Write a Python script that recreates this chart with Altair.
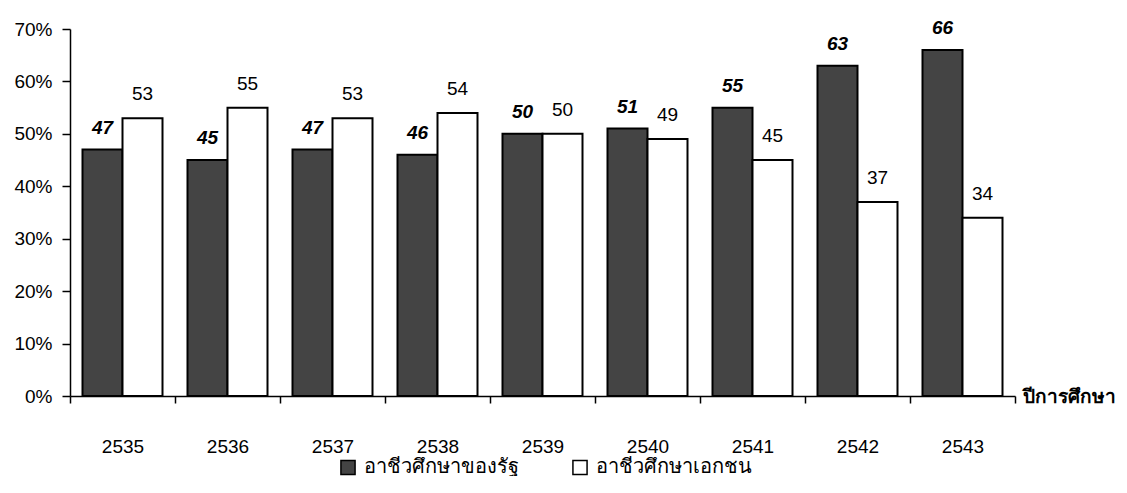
import altair as alt
import pandas as pd

years = ["2535", "2536", "2537", "2538", "2539", "2540", "2541", "2542", "2543"]
state = [47, 45, 47, 46, 50, 51, 55, 63, 66]
private = [53, 55, 53, 54, 50, 49, 45, 37, 34]
series = ["อาชีวศึกษาของรัฐ", "อาชีวศึกษาเอกชน"]
colors = ["#444444", "#ffffff"]

rows = []
for y, s, p in zip(years, state, private):
    rows.append({"year": y, "series": series[0], "value": s / 100, "label": str(s)})
    rows.append({"year": y, "series": series[1], "value": p / 100, "label": str(p)})
df = pd.DataFrame(rows)

FONT = "Liberation Sans"
FS = 19

x_enc = alt.X(
    "year:N",
    sort=years,
    scale=alt.Scale(paddingInner=0, paddingOuter=0),
    axis=alt.Axis(
        title="ปีการศึกษา",
        titleX=952,
        titleY=0,
        titleAlign="left",
        titleBaseline="middle",
        titleAngle=0,
        titleFontSize=19,
        titleFontWeight="bold",
        titleFont=FONT,
        titleColor="black",
        titleLimit=300,
        labelAngle=0,
        labelFontSize=FS,
        labelFont=FONT,
        labelColor="black",
        labelPadding=34,
        tickBand="extent",
        tickSize=7,
        tickColor="black",
        tickWidth=1.5,
        domainColor="black",
        domainWidth=1.5,
        grid=False,
    ),
)
xo_enc = alt.XOffset("series:N", sort=series, scale=alt.Scale(paddingOuter=0.3125, paddingInner=0))
y_enc = alt.Y(
    "value:Q",
    scale=alt.Scale(domain=[0, 0.7]),
    axis=alt.Axis(
        title=None,
        format=".0%",
        values=[0, 0.1, 0.2, 0.3, 0.4, 0.5, 0.6, 0.7],
        labelFontSize=FS,
        labelFont=FONT,
        labelColor="black",
        labelPadding=10,
        tickSize=8,
        tickColor="black",
        tickWidth=1.5,
        domainColor="black",
        domainWidth=1.5,
        grid=False,
    ),
)

bars = alt.Chart(df).mark_bar(stroke="black", strokeWidth=2).encode(
    x=x_enc,
    xOffset=xo_enc,
    y=y_enc,
    fill=alt.Fill(
        "series:N",
        sort=series,
        scale=alt.Scale(domain=series, range=colors),
        legend=alt.Legend(
            title=None,
            orient="none",
            direction="horizontal",
            legendX=268,
            legendY=428,
            symbolType="square",
            symbolSize=200,
            symbolStrokeColor="black",
            symbolStrokeWidth=1.5,
            labelFontSize=20,
            labelFont=FONT,
            labelColor="black",
            labelLimit=400,
            columnPadding=50,
            labelOffset=6,
        ),
    ),
)

state_labels = alt.Chart(df).transform_filter(
    alt.datum.series == series[0]
).mark_text(
    dy=-22, fontSize=FS, fontStyle="italic", fontWeight="bold", font=FONT, color="black", baseline="middle"
).encode(x=x_enc, xOffset=xo_enc, y=y_enc, text="label:N")

private_labels = alt.Chart(df).transform_filter(
    alt.datum.series == series[1]
).mark_text(
    dy=-24, fontSize=FS, font=FONT, color="black", baseline="middle"
).encode(x=x_enc, xOffset=xo_enc, y=y_enc, text="label:N")

chart = alt.layer(bars, state_labels, private_labels).properties(
    width=945,
    height=367,
    autosize=alt.AutoSizeParams(type="none"),
    padding={"left": 62, "top": 21, "right": 104, "bottom": 80},
    background="white",
).configure_view(stroke=None)

chart.save("out.html", embed_options={"renderer": "svg", "actions": False})
